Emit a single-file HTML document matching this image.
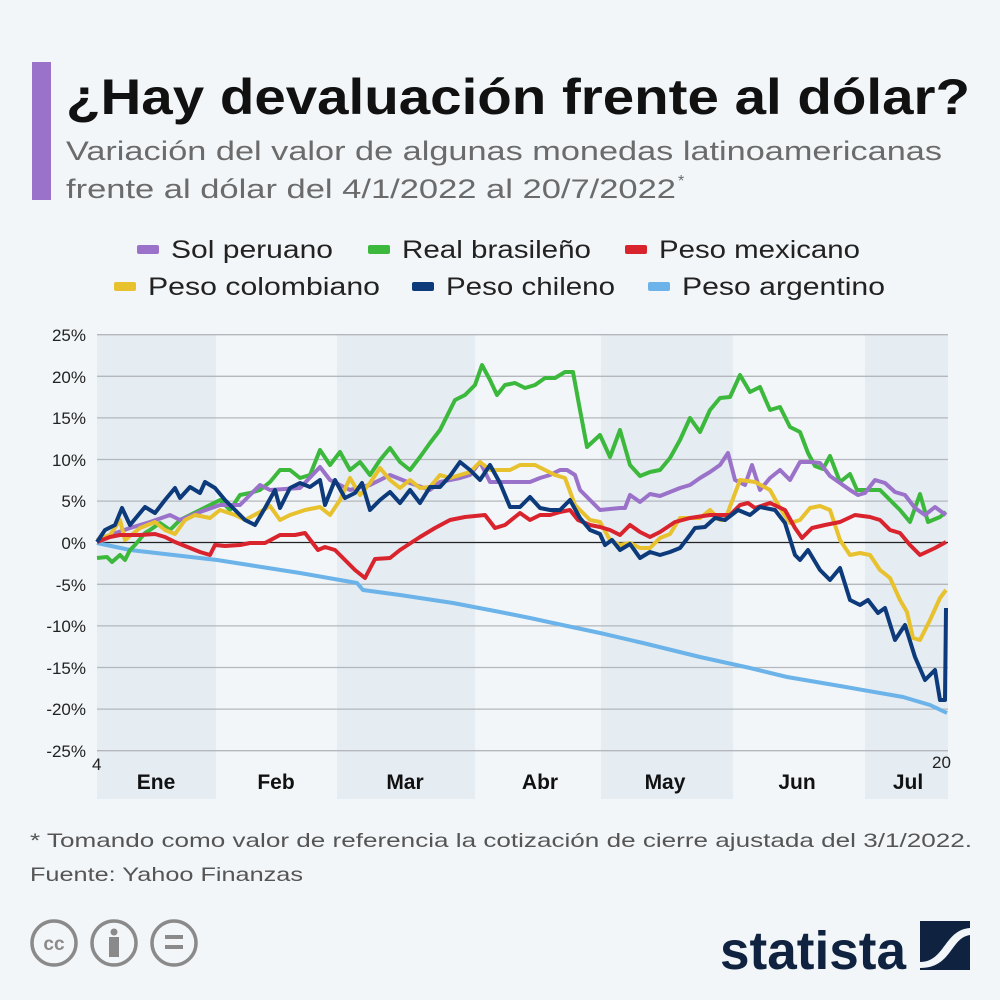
<!DOCTYPE html>
<html><head><meta charset="utf-8"><style>
body{margin:0;background:#f2f6f9;font-family:"Liberation Sans",sans-serif;}
#w{position:relative;width:1000px;height:1000px;overflow:hidden;background:#f2f6f9}
</style></head><body><div id="w">
<svg width="1000" height="1000" xmlns="http://www.w3.org/2000/svg" style="position:absolute;left:0;top:0">
<rect x="32" y="62" width="19" height="138" fill="#9b72c9"/>
<text x="66" y="114" font-size="50" font-weight="bold" fill="#111" font-family="Liberation Sans,sans-serif" textLength="904" lengthAdjust="spacingAndGlyphs">¿Hay devaluación frente al dólar?</text>
<text x="66" y="160" font-size="27" fill="#6b6b6b" textLength="876" lengthAdjust="spacingAndGlyphs">Variación del valor de algunas monedas latinoamericanas</text>
<text x="66" y="198" font-size="27" fill="#6b6b6b" textLength="610" lengthAdjust="spacingAndGlyphs">frente al dólar del 4/1/2022 al 20/7/2022</text>
<text x="678" y="186" font-size="16" fill="#6b6b6b">*</text>
<g font-size="25" fill="#222">
<rect x="137" y="245" width="22" height="9" rx="2" fill="#9b72c9"/><text x="171" y="258" textLength="162" lengthAdjust="spacingAndGlyphs">Sol peruano</text>
<rect x="368" y="245" width="22" height="9" rx="2" fill="#3cb93c"/><text x="402" y="258" textLength="189" lengthAdjust="spacingAndGlyphs">Real brasileño</text>
<rect x="625" y="245" width="22" height="9" rx="2" fill="#d9232d"/><text x="659" y="258" textLength="201" lengthAdjust="spacingAndGlyphs">Peso mexicano</text>
<rect x="114" y="282" width="22" height="9" rx="2" fill="#e8c12e"/><text x="148" y="295" textLength="232" lengthAdjust="spacingAndGlyphs">Peso colombiano</text>
<rect x="412" y="282" width="22" height="9" rx="2" fill="#0c3a7a"/><text x="446" y="295" textLength="169" lengthAdjust="spacingAndGlyphs">Peso chileno</text>
<rect x="648" y="282" width="22" height="9" rx="2" fill="#6bb3e8"/><text x="682" y="295" textLength="203" lengthAdjust="spacingAndGlyphs">Peso argentino</text>
</g>
<g fill="#e5ecf2">
<rect x="97" y="335" width="119" height="464"/><rect x="337" y="335" width="138" height="464"/>
<rect x="601" y="335" width="132" height="464"/><rect x="865" y="335" width="83" height="464"/>
</g>
<g stroke="#b4b8bc" stroke-width="1.3">
<line x1="97" x2="948" y1="334.7" y2="334.7"/><line x1="97" x2="948" y1="376.3" y2="376.3"/>
<line x1="97" x2="948" y1="417.9" y2="417.9"/><line x1="97" x2="948" y1="459.5" y2="459.5"/>
<line x1="97" x2="948" y1="501.1" y2="501.1"/>
<line x1="97" x2="948" y1="584.3" y2="584.3"/><line x1="97" x2="948" y1="625.9" y2="625.9"/>
<line x1="97" x2="948" y1="667.5" y2="667.5"/><line x1="97" x2="948" y1="709.1" y2="709.1"/>
<line x1="97" x2="948" y1="750.7" y2="750.7"/>
</g>
<line x1="97" x2="948" y1="542.5" y2="542.5" stroke="#222" stroke-width="1.3"/>
<g font-size="17" fill="#222" text-anchor="end">
<text x="86" y="341">25%</text><text x="86" y="383">20%</text><text x="86" y="424">15%</text>
<text x="86" y="466">10%</text><text x="86" y="507">5%</text><text x="86" y="549">0%</text>
<text x="86" y="591">-5%</text><text x="86" y="632">-10%</text><text x="86" y="674">-15%</text>
<text x="86" y="715">-20%</text><text x="86" y="757">-25%</text>
</g>
<text x="92" y="770" font-size="17" fill="#222">4</text>
<text x="932" y="768" font-size="17" fill="#222">20</text>
<g font-size="21" font-weight="bold" fill="#111" text-anchor="middle">
<text x="156" y="789">Ene</text><text x="276" y="789">Feb</text><text x="405" y="789">Mar</text>
<text x="540" y="789">Abr</text><text x="665" y="789">May</text><text x="797" y="789">Jun</text><text x="908" y="789">Jul</text>
</g>
<g fill="none" stroke-width="4" stroke-linejoin="round">
<polyline stroke="#6bb3e8" points="97,543 130,550 217,560 300,573 357,583 363,590 400,595 453,603 500,612 530,618 553,623 600,633 643,643 700,657 750,668 787,677 840,686 903,697 930,705 947,713"/>
<polyline stroke="#3cb93c" points="97,558 107,557 112,562 120,555 125,560 130,550 135,545 145,533 150,530 160,523 170,530 180,520 190,515 200,510 210,505 220,500 230,510 240,495 250,493 260,490 270,482 280,470 290,470 300,478 310,475 320,450 330,465 340,452 350,470 360,462 370,475 380,460 390,448 400,462 410,470 420,457 430,443 440,430 450,410 455,400 465,395 475,385 482,365 490,380 497,395 505,385 515,383 525,388 535,385 545,378 555,378 565,372 573,372 580,410 587,447 600,435 610,457 620,430 630,465 640,476 650,472 660,470 670,458 680,440 690,418 700,432 710,410 720,398 730,397 740,375 750,392 760,387 770,410 780,407 790,427 800,432 808,453 815,466 823,469 830,456 840,482 850,474 857,490 865,490 880,490 890,500 900,510 910,522 920,494 928,522 940,517 946,512"/>
<polyline stroke="#9b72c9" points="97,540 110,535 130,528 150,522 170,515 180,520 200,512 220,505 240,505 250,495 260,485 270,490 300,488 320,467 330,480 350,490 370,485 390,475 410,483 430,490 440,482 460,478 470,475 480,462 490,482 510,482 530,482 540,478 550,475 560,470 567,470 575,475 580,490 590,500 600,510 620,508 625,508 630,495 640,502 650,494 660,496 670,492 680,488 690,485 700,478 710,472 720,465 728,453 735,480 745,485 752,465 760,490 770,478 780,470 790,480 800,462 810,462 820,463 830,476 840,483 850,490 858,495 865,493 875,480 885,483 895,492 905,495 915,508 925,515 935,507 946,515"/>
<polyline stroke="#e8c12e" points="97,540 110,535 120,520 125,540 140,528 155,522 165,530 175,534 185,520 195,515 210,518 220,510 235,515 245,520 260,512 270,506 280,520 290,515 305,510 320,507 330,515 340,500 350,478 360,495 370,483 380,468 390,480 400,488 410,480 420,488 430,487 440,475 450,478 460,475 470,472 480,462 490,470 500,470 510,470 520,465 535,465 545,470 555,475 565,478 575,505 590,520 600,522 610,540 620,545 630,543 640,548 650,548 660,538 670,534 680,518 690,518 700,518 710,510 720,520 725,520 740,480 755,482 770,490 780,508 790,523 800,520 810,508 820,506 830,510 840,540 850,555 860,553 870,555 880,570 890,578 900,600 907,612 913,638 920,640 930,620 940,598 946,590"/>
<polyline stroke="#d9232d" points="97,542 110,537 120,535 140,535 155,534 165,537 175,542 190,548 200,552 210,555 215,545 225,546 240,545 250,543 265,543 280,535 295,535 305,533 318,550 325,547 335,550 355,570 365,578 375,559 390,558 400,550 420,537 435,528 450,520 465,517 485,515 495,528 505,525 520,513 530,520 540,515 550,515 560,512 570,510 578,520 590,525 600,527 610,530 620,535 630,525 640,532 650,537 660,532 675,522 690,518 710,515 730,515 740,505 748,503 755,508 770,503 785,510 795,528 802,538 812,528 825,525 840,522 855,515 870,517 880,520 890,530 900,533 910,545 920,555 935,548 946,542"/>
<polyline stroke="#0c3a7a" points="97,542 105,530 115,525 122,508 130,525 145,507 155,513 165,500 175,488 180,498 190,487 200,493 205,482 215,488 225,500 235,510 245,520 255,525 265,508 275,490 280,508 290,488 300,483 310,487 320,480 325,505 335,480 345,498 355,493 362,483 370,510 380,500 390,492 400,503 410,490 420,503 430,487 440,487 450,476 460,462 470,470 480,480 490,465 500,483 510,507 520,507 530,497 540,508 550,510 560,510 565,505 570,500 580,518 590,530 600,534 605,545 612,540 620,550 630,544 640,558 650,552 660,555 670,552 680,548 690,535 695,528 705,527 715,518 725,520 738,510 750,515 760,507 775,510 785,523 795,555 800,560 808,550 820,570 830,580 840,568 850,600 860,605 868,600 878,613 885,608 895,640 905,625 915,657 925,680 935,670 940,700 945,700 946,608"/>
</g>
<g font-size="19.5" fill="#555">
<text x="30" y="847" textLength="942" lengthAdjust="spacingAndGlyphs">* Tomando como valor de referencia la cotización de cierre ajustada del 3/1/2022.</text>
<text x="30" y="881" textLength="273" lengthAdjust="spacingAndGlyphs">Fuente: Yahoo Finanzas</text>
</g>
<g stroke="#8a8a8a" stroke-width="3.5" fill="none">
<circle cx="54" cy="943" r="22"/><circle cx="114" cy="943" r="22"/><circle cx="174" cy="943" r="22"/>
</g>
<text x="54" y="950" font-size="19" font-weight="bold" fill="#8a8a8a" text-anchor="middle">cc</text>
<circle cx="114" cy="932" r="3.5" fill="#8a8a8a"/><rect x="109" y="937" width="10" height="20" fill="#8a8a8a"/>
<rect x="165" y="935" width="18" height="4" fill="#8a8a8a"/><rect x="165" y="945" width="18" height="4" fill="#8a8a8a"/>
<text x="720" y="969" font-size="54" font-weight="bold" fill="#0f2340" textLength="186" lengthAdjust="spacingAndGlyphs">statista</text>
<rect x="920" y="921" width="50" height="49" fill="#0f2340"/>
<path d="M920,962 C945,962 944,930 970,928 L970,935 C950,938 952,968 920,968Z" fill="#f2f6f9"/>
</svg>
</div></body></html>
